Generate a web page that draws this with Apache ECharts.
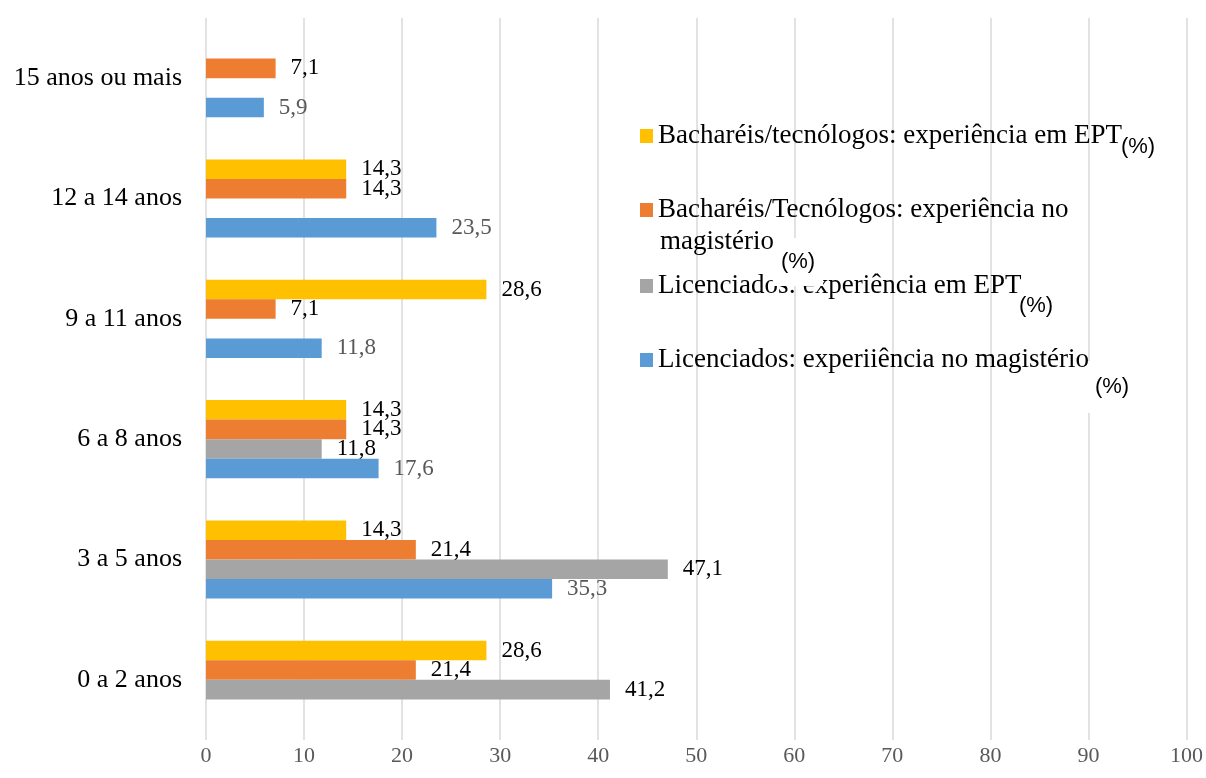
<!DOCTYPE html>
<html>
<head>
    <meta charset="utf-8" />
    <title>Experiência no magistério e em EPT</title>
    <script type="text/javascript" src="https://cdn.jsdelivr.net/npm/echarts@6/dist/echarts.min.js"></script>
    <style>
        html, body { margin: 0; padding: 0; background: #fff; }
    </style>
</head>
<body>
<div id="main" style="width: 1206px;height:778px;"></div>
<script type="text/javascript">
    // dados (de baixo para cima no eixo)
    var faixas = ['0 a 2 anos', '3 a 5 anos', '6 a 8 anos', '9 a 11 anos', '12 a 14 anos', '15 anos ou mais'];
    var bachEPT = [28.6, 14.3, 14.3, 28.6, 14.3, '-'];
    var bachMag = [21.4, 21.4, 14.3, 7.1, 14.3, 7.1];
    var licEPT = [41.2, 47.1, 11.8, '-', '-', '-'];
    var licMag = ['-', 35.3, 17.6, 11.8, 23.5, 5.9];
    var ticksX = [0, 10, 20, 30, 40, 50, 60, 70, 80, 90, 100];

    var nomes = [
        'Bacharéis/tecnólogos: experiência em EPT',
        'Bacharéis/Tecnólogos: experiência no magistério',
        'Licenciados: experiência em EPT',
        'Licenciados: experiiência no magistério'
    ];
    var cores = ['#FFC000', '#ED7D31', '#A5A5A5', '#5B9BD5'];
    var serif = '"Liberation Serif", "Times New Roman", serif';

    var myChart = echarts.init(document.getElementById('main'));

    function serie(i, dados, corRotulo) {
        return {
            name: nomes[i],
            type: 'bar',
            data: dados,
            barGap: '0%',
            barCategoryGap: '35%',
            itemStyle: { color: cores[i] },
            label: {
                show: true,
                position: 'right',
                distance: 15,
                color: corRotulo,
                fontFamily: serif,
                fontSize: 23,
                formatter: function (p) {
                    return String(p.value).replace('.', ',');
                }
            }
        };
    }

    function legenda(i, top) {
        return {
            data: [nomes[i]],
            left: 640,
            top: top,
            padding: 0,
            icon: 'rect',
            itemWidth: 13,
            itemHeight: 14,
            selectedMode: false,
            textStyle: { color: '#000', fontFamily: serif, fontSize: 27, lineHeight: 30 },
            formatter: function (name) {
                return name === nomes[1] ? 'Bacharéis/Tecnólogos: experiência no' : name;
            }
        };
    }

    function pct(x, y, pad, z) {
        return {
            type: 'text',
            z: z,
            x: x,
            y: y,
            style: {
                text: '(%)',
                align: 'center',
                verticalAlign: 'middle',
                font: '22px "Liberation Sans", Arial, sans-serif',
                fill: '#000',
                backgroundColor: '#fff',
                padding: pad
            }
        };
    }

    var option = {
        animation: false,
        grid: { left: 206, right: 19, top: 18, bottom: 38, containLabel: false },
        legend: [
            legenda(0, 121),
            legenda(1, 195),
            legenda(2, 271),
            legenda(3, 345)
        ],
        xAxis: {
            type: 'value',
            min: ticksX[0],
            max: ticksX[ticksX.length - 1],
            interval: 10,
            axisLine: { show: false },
            axisTick: { show: false },
            axisLabel: { color: '#595959', fontFamily: serif, fontSize: 22, margin: 5 },
            splitLine: { show: true, lineStyle: { color: '#d9d9d9', width: 1.5 } }
        },
        yAxis: {
            type: 'category',
            data: faixas,
            axisLine: { show: false },
            axisTick: { show: false },
            axisLabel: { color: '#000', fontFamily: serif, fontSize: 26, margin: 24 }
        },
        graphic: [
            {
                type: 'text',
                z: 5,
                x: 660,
                y: 242,
                style: {
                    text: 'magistério',
                    verticalAlign: 'middle',
                    font: '27px ' + serif,
                    fill: '#000'
                }
            },
            pct(1149, 147, [15, 28, 13, 6], 3),
            pct(798, 262, [17, 8, 9, 8], 10),
            pct(1039, 306, [9, 10, 9, 4], 3),
            pct(1106, 387, [17, 12, 13, 24], 3)
        ],
        series: [
            serie(0, bachEPT, '#000'),
            serie(1, bachMag, '#000'),
            serie(2, licEPT, '#000'),
            serie(3, licMag, '#595959')
        ]
    };
    myChart.setOption(option);
</script>
</body>
</html>
